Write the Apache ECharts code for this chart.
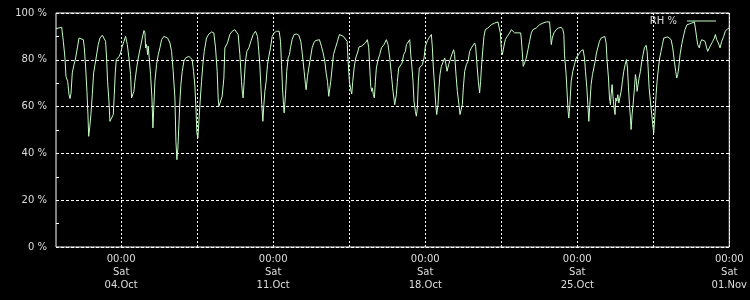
<!DOCTYPE html>
<html><head><meta charset="utf-8">
<script src="https://cdn.jsdelivr.net/npm/echarts@6/dist/echarts.min.js"></script>
<style>html,body{margin:0;padding:0;background:#000}#c{width:750px;height:300px}</style>
</head><body><div id="c"></div>
<script>
// time origin: Wed 01.Oct 00:00 (UTC); x values are hours after it
const startUTC = Date.UTC(2025, 9, 1, 0, 0);
const seriesName = 'RH %';

const hours = [
0,6.3,8.1,9.9,11.0,12.9,14.4,15.5,16.6,18.0,
19.9,21.7,23.6,25.4,27.6,30.2,31.3,32.8,34.2,35.3,
36.1,37.2,38.6,40.1,41.6,43.1,44.9,46.7,48.6,51.2,
53.4,54.8,55.9,57.0,58.5,59.6,61.5,63.3,64.4,65.5,
66.6,67.7,68.8,69.9,71.4,73.2,75.1,76.9,78.8,80.6,
82.4,83.5,84.6,86.1,87.2,89.1,90.9,92.0,93.8,95.3,
97.2,98.3,99.0,100.1,101.2,101.9,103.0,104.5,106.0,107.1,
108.2,109.3,111.1,113.0,114.8,116.7,119.2,121.4,123.3,125.9,
127.7,129.5,131.4,132.5,133.6,134.7,135.8,136.9,138.0,139.5,
141.3,143.2,145.0,146.8,148.3,150.5,152.0,153.5,154.6,155.7,
156.8,157.9,159.3,160.8,162.3,163.8,166.3,168.9,171.9,174.4,
176.3,178.1,179.2,180.0,181.8,183.6,185.5,
186.6,189.5,192.1,194.7,197.6,199.5,201.3,203.2,205.0,206.1,
206.8,207.9,209.4,210.9,213.1,215.3,217.9,220.5,222.7,224.1,
225.2,226.3,227.4,228.6,229.7,230.8,232.2,233.7,235.2,237.0,
238.9,241.1,243.6,246.6,248.1,249.2,250.3,251.4,252.1,253.6,
255.0,256.5,258.0,259.1,260.9,263.1,265.7,268.3,270.5,272.3,
274.2,275.7,276.4,277.9,279.3,281.2,283.0,284.9,286.7,288.9,
291.1,293.3,295.2,297.0,298.5,300.0,301.4,302.5,303.6,305.1,
306.6,308.8,311.0,313.2,315.4,317.6,319.8,321.7,322.8,324.2,
325.7,326.8,327.9,329.4,331.2,333.1,334.9,337.5,339.7,341.9,
344.1,345.6,346.7,347.8,348.9,349.6,350.7,351.8,352.9,354.0,
355.9,357.7,359.6,362.5,365.1,366.9,368.8,370.6,372.4,373.9,
374.3,376.1,377.2,378.7,380.6,382.4,384.2,386.1,387.2,389.0,
390.9,392.0,393.4,394.5,395.6,397.1,398.2,399.3,400.4,401.5,
403.0,404.8,406.7,408.2,410.4,412.6,414.8,415.9,417.0,418.5,
419.6,420.7,422.1,423.2,424.3,425.8,427.7,429.5,430.6,432.1,
433.9,436.1,438.0,439.4,440.5,442.0,443.5,445.3,446.4,447.9,
449.0,450.1,451.6,453.4,455.3,457.1,459.0,460.8,462.6,463.7,
465.2,466.7,468.1,469.2,470.3,471.8,472.9,474.4,477.3,481.0,
484.7,488.4,489.9,491.0,492.1,493.2,494.6,496.5,498.7,501.3,
503.1,505.0,506.8,508.6,510.5,513.4,514.1,515.2,516.3,517.8,
519.7,521.5,523.3,525.2,527.0,530.7,534.4,538.1,541.7,545.4,
546.5,547.3,548.4,550.2,552.8,555.4,558.3,560.1,561.2,
561.9,563.7,564.8,565.9,566.7,567.8,569.3,571.1,572.9,574.8,
577.4,579.6,581.4,582.5,584.0,585.1,586.6,587.7,588.8,589.9,
591.3,592.8,594.3,595.8,597.2,598.7,600.5,602.4,604.6,606.4,
607.9,609.0,610.5,611.6,612.7,613.4,614.5,615.6,616.7,617.8,
618.6,619.7,620.8,621.9,623.4,624.5,625.9,627.4,628.9,630.3,
631.5,632.6,633.7,634.8,635.5,636.6,637.7,639.2,640.3,641.4,
642.1,643.2,644.3,645.8,647.3,648.7,650.2,652.1,653.2,654.3,
655.4,656.8,658.3,659.8,660.5,661.6,663.1,664.2,665.7,667.1,
668.6,670.1,671.6,673.4,676.0,678.2,679.7,681.5,683.3,684.8,
685.9,687.0,688.1,689.6,691.4,692.9,695.1,697.3,699.9,702.5,
705.4,706.5,708.0,709.1,710.9,712.0,713.5,715.7,717.2,719.0,
720.1,721.9,723.8,725.7,727.5,728.6,730.1,731.9,733.8,735.6,
737.8,739.6,742.2,744.0
];

const rh = [
93.3,93.9,87.9,80.8,72.9,70.8,65.1,63.4,65.8,74.4,
77.9,80.8,85.1,89.3,89.0,88.6,85.1,76.5,66.5,56.6,
47.3,50.9,56.6,65.1,74.4,77.9,78.6,86.5,89.3,90.5,
90.5,87.9,80.8,70.8,62.3,53.7,54.4,56.6,65.1,74.4,
80.1,80.8,79.4,81.5,82.9,85.8,87.9,90.0,86.5,80.8,
73.7,63.7,63.0,66.5,70.8,76.5,80.8,82.9,83.6,89.3,
92.5,91.5,85.1,86.5,82.2,85.8,80.8,73.7,63.7,50.9,
60.8,70.8,77.9,82.2,85.1,88.6,90.0,90.5,89.3,87.2,
83.6,75.1,63.7,45.2,37.3,42.3,52.3,62.3,69.4,75.1,
79.4,80.8,81.5,81.5,81.1,80.1,75.1,68.7,59.4,48.7,
46.6,53.7,62.3,70.8,77.9,83.6,89.3,91.0,91.9,91.5,
85.1,75.1,63.7,60.1,60.8,64.4,72.2,
85.1,87.2,90.8,92.2,92.9,93.3,90.8,82.2,70.8,65.1,
63.7,70.8,79.4,83.6,85.1,87.9,90.8,92.2,90.0,83.6,
77.9,69.4,60.8,53.7,60.8,66.5,70.8,77.9,81.5,85.1,
90.0,91.5,92.2,92.2,87.9,77.9,68.0,60.8,57.3,65.1,
75.1,80.8,82.2,85.1,88.6,90.8,91.0,90.5,87.9,82.2,
75.1,69.4,67.2,72.9,76.5,80.8,85.1,87.2,88.2,89.0,
88.6,85.8,82.9,79.4,74.4,70.8,64.4,65.1,70.8,76.5,
82.2,85.1,87.9,90.8,90.5,90.0,90.0,87.9,79.4,70.8,
67.2,65.4,70.8,76.5,80.8,82.9,85.5,85.8,86.5,87.2,
88.6,85.1,76.5,68.7,66.5,68.0,65.1,63.7,70.8,76.5,
80.1,82.2,85.1,86.5,88.6,86.5,80.8,73.7,66.5,62.0,
60.8,65.1,70.8,76.5,77.2,78.6,82.2,83.6,86.5,87.2,
88.6,82.2,76.5,70.8,62.3,58.0,55.9,59.4,70.8,76.5,
77.2,77.9,80.8,85.8,88.2,89.6,90.8,85.1,76.5,68.0,
60.8,56.6,60.8,68.0,73.7,77.2,77.9,80.8,78.6,75.1,
77.9,80.8,82.9,84.3,82.2,73.7,66.5,60.8,56.6,55.9,
60.8,68.0,75.1,77.9,79.4,83.6,85.1,85.8,87.2,85.8,
77.9,70.8,65.8,70.8,77.9,85.1,90.0,92.9,93.6,95.0,
95.7,96.2,96.5,91.5,85.1,82.2,85.1,88.6,90.0,91.5,
92.9,92.2,91.5,90.8,91.5,91.5,89.3,83.6,77.2,78.6,
80.8,84.3,87.9,91.5,92.9,93.6,95.0,95.7,96.2,96.2,
90.8,86.5,89.3,91.5,92.9,93.6,93.9,92.9,90.8,
82.2,73.7,65.8,58.0,55.1,60.8,70.8,75.1,77.9,80.8,
82.2,83.6,82.9,84.3,80.8,75.1,68.0,60.8,53.7,60.8,
69.4,73.7,76.5,79.4,82.9,85.1,87.9,89.3,90.0,90.0,
87.2,79.4,72.2,63.7,60.8,65.1,69.4,63.7,59.4,56.6,
63.7,62.3,65.1,61.6,62.3,66.5,70.8,75.1,77.9,80.1,
76.5,68.0,60.8,55.1,50.2,56.6,60.8,68.0,73.7,70.8,
66.5,69.4,72.2,75.1,79.4,82.2,85.1,86.2,83.6,76.5,
68.0,62.3,56.6,50.9,48.7,55.1,65.1,70.8,76.5,80.8,
83.6,86.5,89.3,90.0,89.8,90.0,88.6,85.1,79.4,75.1,
72.2,73.7,76.5,82.2,86.5,89.3,92.9,95.0,95.3,95.7,
96.2,93.6,89.3,86.5,85.1,87.2,88.6,89.3,87.9,85.1,
83.6,85.1,85.8,87.9,89.3,90.8,88.6,87.2,85.1,87.9,
90.0,92.2,93.3,93.6
];

// axis layout values (hours after origin)
const xRange = [0, 744];
const labelHours = [72, 240, 408, 576, 744];          // Saturdays 00:00
const gridHours = [72, 156, 240, 324, 408, 492, 576, 660, 744];
const yRange = [0, 100];
const yStep = 20;
const weekdays = ['Sun','Mon','Tue','Wed','Thu','Fri','Sat'];
const months = ['Jan','Feb','Mar','Apr','May','Jun','Jul','Aug','Sep','Oct','Nov','Dec'];

function pad(n){ return (n < 10 ? '0' : '') + n; }
function fmtTime(h){
  const d = new Date(startUTC + h * 3600000);
  return pad(d.getUTCHours()) + ':' + pad(d.getUTCMinutes()) + '\n' +
         weekdays[d.getUTCDay()] + '\n' +
         pad(d.getUTCDate()) + '.' + months[d.getUTCMonth()];
}

const FONT = 'DejaVu Sans';
const TXT = '#dddddd';
const LINE = '#c4fcc4';

const chart = echarts.init(document.getElementById('c'), null, {renderer: 'canvas'});
chart.setOption({
  backgroundColor: '#000',
  animation: false,
  grid: {
    left: 56, right: 20, top: 13, bottom: 53,
    show: true, borderColor: '#ffffff', borderWidth: 1, backgroundColor: 'transparent'
  },
  legend: {
    data: [{name: seriesName, icon: 'rect'}],
    right: 34, top: 16, align: 'right',
    itemWidth: 29, itemHeight: 1, padding: 0,
    textStyle: {color: TXT, fontFamily: FONT, fontSize: 10, padding: [0, 5, 0, 0]}
  },
  xAxis: {
    type: 'value', min: xRange[0], max: xRange[1],
    axisLine: {show: false},
    axisTick: {show: false, customValues: gridHours},
    axisLabel: {
      customValues: labelHours, showMaxLabel: true, showMinLabel: true,
      formatter: fmtTime, color: TXT, fontFamily: FONT, fontSize: 10,
      lineHeight: 13, margin: 6, align: 'center'
    },
    splitLine: {show: true, lineStyle: {color: '#ffffff', width: 1, type: [2, 2]}}
  },
  yAxis: {
    type: 'value', min: yRange[0], max: yRange[1], interval: yStep,
    axisLine: {show: false},
    axisTick: {show: true, inside: true, length: 3, lineStyle: {color: '#ffffff'}},
    minorTick: {show: true, splitNumber: 2, length: 3, lineStyle: {color: '#ffffff'}},
    axisLabel: {
      formatter: '{value} %', color: TXT, fontFamily: FONT, fontSize: 10, margin: 9
    },
    splitLine: {show: true, lineStyle: {color: '#ffffff', width: 1, type: [3, 2]}}
  },
  series: [{
    name: seriesName,
    type: 'line',
    data: hours.map((h, i) => [h, rh[i]]),
    showSymbol: false,
    symbol: 'none',
    color: LINE,
    lineStyle: {color: LINE, width: 1},
    clip: true
  }]
});
</script>
</body></html>
